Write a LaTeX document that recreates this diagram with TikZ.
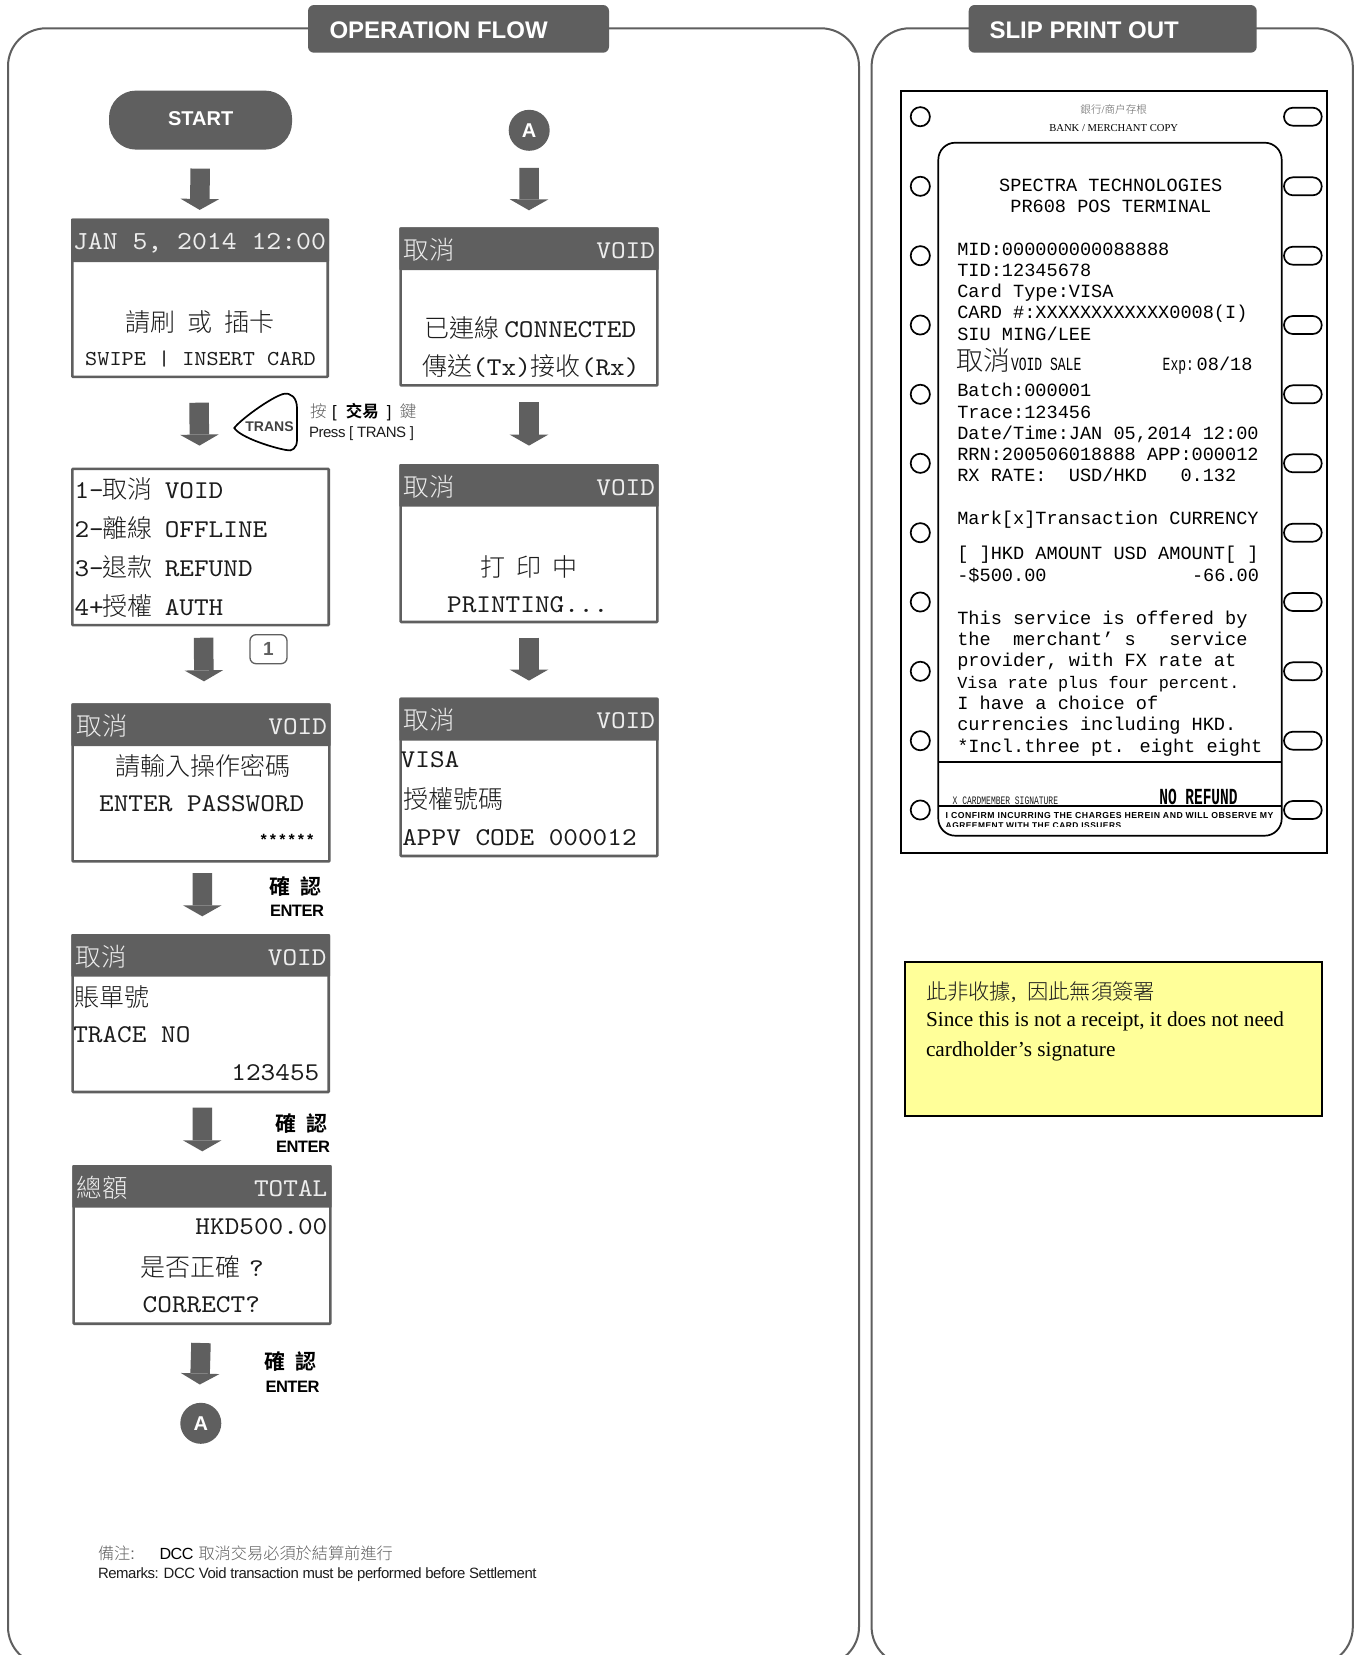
\documentclass[tikz,border=0pt]{standalone}
\usepackage{fontspec}
\usepackage{graphicx}
\usetikzlibrary{arrows.meta,calc}
\setmainfont{Liberation Sans}
\newfontfamily\cjl{Noto Sans CJK TC Light}
\newfontfamily\cjr{Noto Sans CJK TC}
\newfontfamily\cjb{Noto Sans CJK TC Bold}
\newfontfamily\mnf[FakeStretch=1.09,Extension=.otf]{lmmono10-regular}
\newfontfamily\rcpf{Liberation Mono}
\newfontfamily\rcpn[FakeStretch=0.7]{Liberation Mono}
\newfontfamily\rcpb[FakeStretch=0.63]{Liberation Mono Bold}
\newfontfamily\tms{Liberation Serif}
\newfontfamily\ars{Liberation Sans}
\newcommand\fsz[1]{\fontsize{#1}{#1}\selectfont}
\newcommand\Mn[1]{{\mnf\fsz{25.6}#1}}
\newcommand\Mns[1]{{\mnf\fsz{21.2}#1}}
\newcommand\Cj[1]{{\cjl\fsz{25}#1}}
\definecolor{panel}{HTML}{5F5F5F}
\definecolor{ink}{HTML}{1C1C1C}
\definecolor{ttl}{HTML}{EDEDED}
\definecolor{note}{HTML}{FFFF99}
\tikzset{
  txt/.style={inner sep=0pt,outer sep=0pt,text=ink},
  ttltxt/.style={txt,text=ttl},
  screenbox/.style={draw=panel,line width=2.6pt,fill=white,inner sep=0pt,outer sep=0pt,rectangle,rounded corners=0.8pt},
  frame/.style={draw=panel,line width=2pt,rounded corners=38pt},
  headerbox/.style={fill=panel,rounded corners=6pt,inner sep=0pt,outer sep=0pt,minimum height=47.7pt,anchor=north west},
  headertxt/.style={txt,text=white,font={\ars\bfseries\fsz{24}},anchor=base west},
  circ/.style={circle,fill=panel,text=white,minimum size=41pt,inner sep=0pt,outer sep=0pt,font={\ars\bfseries\fsz{20}}},
  flowarrow/.style={draw=panel,line width=19.5pt,-{Triangle[length=11pt,width=38.6pt,line width=0pt,fill=panel]}},
  hole/.style={draw=black,line width=1.7pt,fill=white},
  rcptxt/.style={txt,text=black,anchor=base west,font={\rcpf\fsz{18.6}}},
  slipline/.style={draw=black,line width=1.6pt},
  cfm/.style={txt,text=black,anchor=base,font={\cjb\fsz{21}}},
  ent/.style={txt,text=black,anchor=base west,font={\ars\bfseries\fsz{17}}},
}
% name x0 y0 x1 y1
\newcommand\scrbox[5]{\node[screenbox,anchor=north west,minimum width={(#4-#2-2.6)*1pt},minimum height={(#5-#3-2.6)*1pt}] (#1) at ({#2+1.3},{#3+1.3}) {};}
% name x0 y0 x1 y1 titlebottom
\newcommand\scrttl[6]{\scrbox{#1}{#2}{#3}{#4}{#5}\fill[panel,rounded corners=0.8pt] (#2,#3) rectangle (#4,#6);}
% name x y anchor text
\newcommand\tx[5]{\node[txt,anchor=#4] (#1) at (#2,#3) {#5};}
\newcommand\ttlL[4]{\node[ttltxt,anchor=base west] (#1) at (#2,#3) {{\cjl\fsz{25.5}#4}};}
\newcommand\ttlR[4]{\node[ttltxt,anchor=base east] (#1) at (#2,#3) {\Mn{#4}};}
\newcommand\rl[4]{\node[rcptxt] (#1) at (#2,#3) {#4};}
\newcommand\hl[2]{\draw[hole] (920.3,#2) circle (9.6pt);\draw[hole,rounded corners=8.9pt] (1284,{#2-9}) rectangle (1321.7,{#2+9});}
\newcommand\entr{\resizebox{54pt}{!}{\fsz{18}\addfontfeature{LetterSpace=-3}ENTER}}
\begin{document}
\begin{tikzpicture}[x=1pt,y=-1pt]
\useasboundingbox (0,0) rectangle (1358,1655);
\fill[white] (0,0) rectangle (1358,1655);
% frames
\begin{scope}
\clip (0,0) rectangle (1358,1655);
\draw[frame] (8,1665) rectangle (859,28.3);
\draw[frame] (871.6,1665) rectangle (1352.8,28.3);
\end{scope}
\node[headerbox,minimum width=301pt] (hdrL) at (308,5) {};
\node[headertxt] (hdrLt) at (329.5,38.2) {OPERATION FLOW};
\node[headerbox,minimum width=288pt] (hdrR) at (968.7,5) {};
\node[headertxt] (hdrRt) at (989.5,38.2) {SLIP PRINT OUT};
% START
\node[fill=panel,rounded corners=27pt,minimum width=183pt,minimum height=59pt,inner sep=0pt,outer sep=0pt] (start) at (200.5,120.1) {};
\node[txt,text=white,font={\ars\bfseries\fsz{20}},anchor=base] (startt) at (200.7,125.7) {START};
% Screen 1
\scrttl{s1}{71}{218.6}{329}{378.2}{262}
\tx{s1a}{199.5}{249.6}{base}{\textcolor{ttl}{\mnf\fsz{26}JAN 5, 2014 12:00}}
\tx{s1b}{200.3}{331.8}{base}{\Cj{請刷\hspace{12pt}或\hspace{12pt}插卡}}
\tx{s1c}{200.5}{365.7}{base}{\Mns{SWIPE | INSERT CARD}}
% TRANS key
\draw[black,line width=1.7pt,fill=white] (234.3,428) .. controls (240,420) and (270,398) .. (283,394) .. controls (291,392) and (297,398) .. (297,408) -- (297,440) .. controls (297,448) and (292,452) .. (286,450) .. controls (270,447) and (240,437) .. (234.3,428) -- cycle;
\node[txt,text=black!75,font={\ars\bfseries\fsz{14}}] (transk) at (269.5,427) {TRANS};
\node[txt,anchor=base west,font={\cjl\fsz{16.5}},text=panel] (press1) at (310,417.5) {按\hspace{5.5pt}\textcolor{black}{{\ars [}\hspace{9.4pt}{\cjb 交易}\hspace{8pt}{\ars ]}}\hspace{8.4pt}鍵};
\node[txt,anchor=base west] (press2) at (309,437) {\resizebox{105pt}{!}{\ars\fsz{16}\addfontfeature{LetterSpace=-3}Press [ TRANS ]}};
% Menu
\scrbox{s2}{71}{467.5}{330}{626.4}
\tx{s2a}{74.5}{498.6}{base west}{\Mn{1-}\hspace{-1pt}\Cj{取消}\hspace{12pt}\Mn{VOID}}
\tx{s2b}{74.5}{537}{base west}{\Mn{2-}\hspace{-1pt}\Cj{離線}\hspace{12pt}\Mn{OFFLINE}}
\tx{s2c}{74.5}{576.4}{base west}{\Mn{3-}\hspace{-1pt}\Cj{退款}\hspace{12pt}\Mn{REFUND}}
\tx{s2d}{74.5}{615}{base west}{\Mn{4+}\hspace{-1pt}\Cj{授權}\hspace{12pt}\Mn{AUTH}}
% 1 box
\node[draw=panel,line width=1.3pt,rounded corners=6pt,minimum width=37pt,minimum height=29pt,inner sep=0pt,text=panel,font={\ars\bfseries\fsz{19}}] (one) at (268.5,649.2) {1};
% Screen 3
\scrttl{s3}{71.3}{703.3}{330.7}{862.7}{746}
\ttlL{s3a}{76.5}{735}{取消}
\ttlR{s3b}{327}{734}{VOID}
\tx{s3c}{202.7}{775.7}{base}{\Cj{請輸入操作密碼}}
\tx{s3d}{201.7}{811}{base}{\Mn{ENTER PASSWORD}}
\node[txt,anchor=base east,font={\rcpf\bfseries\fsz{15.5}},text=black] (s3e) at (315,845) {******};
% Screen 4
\scrttl{s4}{71.3}{934}{330}{1093.3}{976.7}
\ttlL{s4a}{75.5}{966}{取消}
\ttlR{s4b}{326.5}{965}{VOID}
\tx{s4c}{74.3}{1006.7}{base west}{\Cj{賬單號}}
\tx{s4d}{73.3}{1042}{base west}{\Mn{TRACE NO}}
\tx{s4e}{319.3}{1080.7}{base east}{\Mn{123455}}
% Screen 5
\scrttl{s5}{72.3}{1165}{331.7}{1325}{1207.7}
\ttlL{s5a}{76.8}{1197}{總額}
\ttlR{s5b}{327.3}{1196}{TOTAL}
\tx{s5c}{327.3}{1234.3}{base east}{\Mn{HKD500.00}}
\tx{s5d}{140}{1276.7}{base west}{\Cj{是否正確}\hspace{9pt}\Mn{?}}
\tx{s5e}{201.3}{1312.7}{base}{\Mn{CORRECT?}}
% A bottom
\node[circ] (A1) at (200.8,1423.3) {A};
% Right column
\node[circ] (A2) at (529.2,130.3) {A};
\scrttl{s6}{399.3}{227.3}{658.7}{386.7}{270}
\ttlL{s6a}{403.5}{259.3}{取消}
\ttlR{s6b}{655}{258.3}{VOID}
\tx{s6c}{424.3}{337.3}{base west}{\Cj{已連線}\hspace{5pt}\Mn{CONNECTED}}
\tx{s6d}{422.3}{375.7}{base west}{\Cj{傳送}\Mn{(Tx)}\Cj{接收}\Mn{(Rx)}}
\scrttl{s7}{399.3}{464}{658.7}{623.3}{506.7}
\ttlL{s7a}{403.5}{496}{取消}
\ttlR{s7b}{655}{495}{VOID}
\tx{s7c}{529}{576.7}{base}{\Cj{打\hspace{11pt}印\hspace{11pt}中}}
\tx{s7d}{527.7}{612.3}{base}{\Mn{PRINTING...}}
\scrttl{s8}{399.3}{697.7}{658.7}{857.3}{740.7}
\ttlL{s8a}{403.5}{729.5}{取消}
\ttlR{s8b}{655}{728.5}{VOID}
\tx{s8c}{400.7}{767.3}{base west}{\Mn{VISA}}
\tx{s8d}{403.3}{808.3}{base west}{\Cj{授權號碼}}
\tx{s8e}{402.3}{845.7}{base west}{\Mn{APPV CODE 000012}}
% Flow arrows
\draw[flowarrow] ([xshift=-0.3pt,yshift=-19pt]start.south) -- ([xshift=-0.3pt,yshift=10pt]s1.north);
\draw[flowarrow] ([xshift=-1pt,yshift=-25.8pt]s1.south) -- ([xshift=-1pt,yshift=23.2pt]s2.north);
\draw[flowarrow] ([xshift=3pt,yshift=-12.6pt]s2.south) -- ([xshift=3pt,yshift=23.3pt]s3.north);
\draw[flowarrow] ([xshift=1.3pt,yshift=-11.6pt]s3.south) -- ([xshift=1.6pt,yshift=19pt]s4.north);
\draw[flowarrow] ([xshift=1.6pt,yshift=-15.7pt]s4.south) -- ([xshift=0.3pt,yshift=15pt]s5.north);
\draw[flowarrow] ([xshift=-1pt,yshift=-19.3pt]s5.south) -- ([xshift=-1pt,yshift=18.3pt]A1.north);
\draw[flowarrow] ([yshift=-17pt]A2.south) -- ([yshift=18.3pt]s6.north);
\draw[flowarrow] ([yshift=-16.6pt]s6.south) -- ([yshift=19.7pt]s7.north);
\draw[flowarrow] ([yshift=-15.7pt]s7.south) -- ([yshift=18.4pt]s8.north);
% ENTER labels
\node[cfm] (c1) at (295.8,894) {確\hspace{9.7pt}認};
\node[ent] (e1) at (270,916.7) {\entr};
\node[cfm] (c2) at (301.6,1131) {確\hspace{9.7pt}認};
\node[ent] (e2) at (276,1152.7) {\entr};
\node[cfm] (c3) at (290.8,1369.5) {確\hspace{9.7pt}認};
\node[ent] (e3) at (265.5,1392) {\entr};
% Remarks
\node[txt,anchor=base west,font={\cjl\fsz{16.2}},text=panel] (r1) at (98,1559.3) {備注{\ars :}};
\node[txt,anchor=base west,font={\cjl\fsz{16.2}},text=panel] (r2) at (159.5,1559.3) {\textcolor{black}{\resizebox{34pt}{!}{\ars\fsz{17.5}\addfontfeature{LetterSpace=-3}DCC}}\hspace{5pt}取消交易必須於結算前進行};
\node[txt,anchor=base west] (r3) at (98,1578.3) {\resizebox{438.6pt}{!}{\ars\fsz{16}\addfontfeature{LetterSpace=-3}Remarks: DCC Void transaction must be performed before Settlement}};
% Slip
\draw[black,line width=2pt] (900.7,90.7) rectangle (1326.7,853.3);
\draw[black,line width=1.7pt,fill=white,rounded corners=17pt] (938.3,142.7) rectangle (1281.7,835.7);
\hl{1}{116.7}\hl{2}{186.3}\hl{3}{255.7}\hl{4}{325}\hl{5}{394.3}\hl{6}{463.3}\hl{7}{532.7}\hl{8}{602}\hl{9}{671.3}\hl{10}{740.7}\hl{11}{810}
\node[txt,anchor=base,font={\cjl\fsz{10.6}},text=panel] (b1) at (1113.7,113) {銀行{\tms /}商户存根};
\node[txt,anchor=base,text=black] (b2) at (1113.7,131.7) {\resizebox{128.7pt}{!}{\tms\fsz{11}BANK / MERCHANT COPY}};
\node[rcptxt,anchor=base] (p1) at (1110.8,191) {SPECTRA TECHNOLOGIES};
\node[rcptxt,anchor=base] (p2) at (1110.8,212.3) {PR608 POS TERMINAL};
\rl{p3}{957.3}{255}{MID:000000000088888}
\rl{p4}{957.3}{276}{TID:12345678}
\rl{p5}{957.3}{297.3}{Card Type:VISA}
\rl{p6}{957.3}{318.7}{CARD \#:XXXXXXXXXXXX0008(I)}
\rl{p7}{957.3}{340}{SIU MING/LEE}
\node[txt,anchor=base west,text=ink,font={\cjl\fsz{27}}] (p8a) at (956.5,370.5) {取消};
\node[txt,anchor=base west,text=black,font={\rcpn\fsz{18.6}}] (p8b) at (1011,370.7) {VOID SALE};
\node[txt,anchor=base west,text=black,font={\rcpn\fsz{18.6}}] (p8c) at (1162.7,370.7) {Exp:};
\rl{p8d}{1196.7}{370.7}{08/18}
\rl{p9}{957.3}{396}{Batch:000001}
\rl{p10}{957.3}{418}{Trace:123456}
\rl{p11}{957.3}{439}{Date/Time:JAN 05,2014 12:00}
\rl{p12}{957.3}{460}{RRN:200506018888 APP:000012}
\rl{p13}{957.3}{481.7}{RX RATE:~~USD/HKD~~~0.132}
\rl{p14}{957.3}{524}{Mark[x]Transaction CURRENCY}
\rl{p15}{957.3}{559.3}{[ ]HKD AMOUNT USD AMOUNT[ ]}
\rl{p16}{957.3}{581}{-\$500.00}
\node[rcptxt,anchor=base east] (p17) at (1259,581) {-66.00};
\rl{p18}{957.3}{624.3}{This service is offered by}
\rl{p19}{957.3}{645.3}{the~~merchant’ s~~~service}
\rl{p20}{957.3}{666}{provider, with FX rate at}
\node[rcptxt,font={\rcpf\fsz{16.8}}] (p21) at (957.3,688.3) {Visa rate plus four percent.};
\rl{p22}{957.3}{709}{I have a choice of}
\rl{p23}{957.3}{730.7}{currencies including HKD.}
\rl{p24}{957.3}{752}{*Incl.three pt. eight eight}
\draw[slipline] (938.3,762) -- (1281.7,762);
\draw[slipline] (938.3,805.7) -- (1281.7,805.7);
\node[txt,anchor=base west,text=ink,font={\rcpn\fsz{11.4}}] (p25) at (952.7,804) {X CARDMEMBER SIGNATURE};
\node[txt,anchor=base west,text=black,font={\rcpb\fsz{23}}] (p26) at (1159.3,804) {NO REFUND};
\node[txt,anchor=base west,text=black] (p27) at (945.7,818.3) {\resizebox{327.6pt}{!}{\ars\bfseries\fsz{8.4}\addfontfeature{LetterSpace=6}I CONFIRM INCURRING THE CHARGES HEREIN AND WILL OBSERVE MY}};
\begin{scope}
\clip (940,806) rectangle (1280,826);
\node[txt,anchor=base west,text=black,font={\ars\bfseries\fsz{8.4}\addfontfeature{LetterSpace=6}}] (p28) at (945.7,828) {AGREEMENT WITH THE CARD ISSUERS};
\end{scope}
% Note
\draw[black,line width=2pt,fill=note] (905,962.3) rectangle (1321.7,1116);
\node[txt,anchor=base west,font={\cjl\fsz{21.3}},text=ink] (n1) at (926,999.3) {此非收據{\tms ,}\hspace{10.7pt}因此無須簽署};
\node[txt,anchor=base west,text=black] (n2) at (926,1026) {\resizebox{358pt}{!}{\tms\fsz{21.3}Since this is not a receipt, it does not need}};
\node[txt,anchor=base west,text=black] (n3) at (926,1056) {\tms\fsz{21.3}cardholder’s signature};
\end{tikzpicture}
\end{document}
